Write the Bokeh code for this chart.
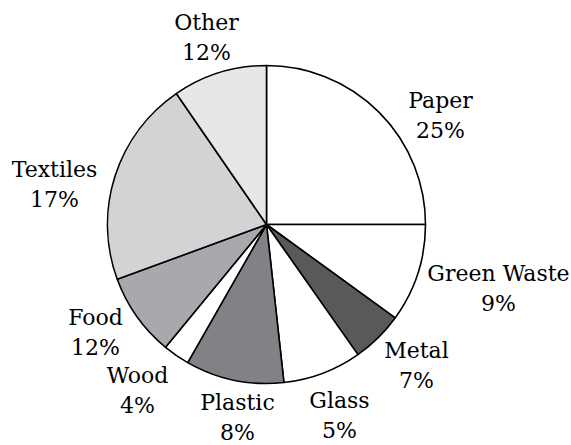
import numpy as np
from bokeh.plotting import figure
from bokeh.models import Range1d, ColumnDataSource
from bokeh.core.properties import value
from bokeh.embed import file_html
from bokeh.resources import INLINE

categories = ["Paper", "Green Waste", "Metal", "Glass", "Plastic", "Wood", "Food", "Textiles", "Other"]
slice_shares = [25.0, 10.0, 5.25, 8.0, 10.0, 2.7, 8.45, 21.0, 9.6]
label_percents = ["25%", "9%", "7%", "5%", "8%", "4%", "12%", "17%", "12%"]

# ---- styles / layout ----
colors = ["#ffffff", "#ffffff", "#58595b", "#ffffff", "#808285", "#ffffff", "#a7a9ac", "#d1d3d4", "#e6e7e8"]
label_x = [440, 498, 416, 339, 237, 137, 95, 54, 206]
label_y = [108, 281, 358, 408, 410, 383, 325, 177, 30]
line_gap = 29.5
cx, cy, radius = 266, 224, 159
W, H = 571, 445
FONT = "DejaVu Serif"

shares = np.array(slice_shares, dtype=float)
frac = shares / shares.sum()
cum = np.cumsum(frac)
prev = cum - frac
start = np.pi / 2 - 2 * np.pi * cum
end = np.pi / 2 - 2 * np.pi * prev

def Y(img_y):
    return H - np.asarray(img_y, dtype=float)

p = figure(width=W, height=H, output_backend="svg", toolbar_location=None,
           x_range=Range1d(0, W), y_range=Range1d(0, H), min_border=0,
           background_fill_color="white", border_fill_color="white")
p.axis.visible = False
p.grid.visible = False
p.outline_line_color = None

src = ColumnDataSource(dict(x=[cx] * len(categories), y=list(Y([cy] * len(categories))),
                            start=start, end=end, color=colors, cat=categories))
p.wedge(x="x", y="y", radius=radius, start_angle="start", end_angle="end",
        fill_color="color", line_color="black", line_width=1.6, source=src)

lab = ColumnDataSource(dict(x=label_x, y1=list(Y(label_y)),
                            y2=list(Y(np.array(label_y) + line_gap)),
                            name=categories, pct=label_percents))
for col, ycol in (("name", "y1"), ("pct", "y2")):
    p.text(x="x", y=ycol, text=col, source=lab, text_align="center",
           text_baseline="alphabetic", text_font=value(FONT), y_offset=-8,
           text_font_size="22px", text_color="black")

open("out.html", "w").write(file_html(p, INLINE))
